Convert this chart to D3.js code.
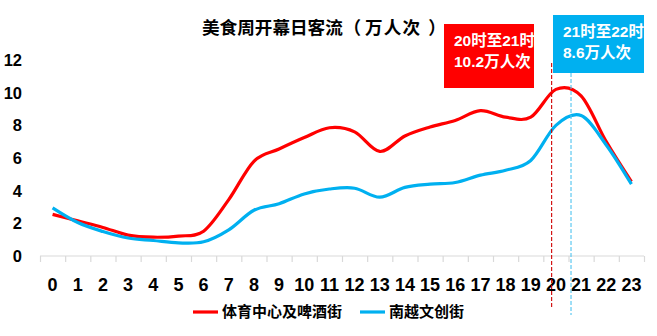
<!DOCTYPE html>
<html>
<head>
<meta charset="utf-8">
<script src="https://cdn.jsdelivr.net/npm/d3@7/dist/d3.min.js"></script>
<style>
  html, body { margin: 0; padding: 0; background: #fff; }
  svg { display: block; }
  text { font-family: "Liberation Sans", "Noto Sans CJK SC", sans-serif; font-weight: bold; }
</style>
</head>
<body>
<svg id="chart" width="657" height="336"></svg>
<script>
// Hourly visitor flow on the food-week opening day (unit: 10k visits)
const hours = d3.range(24).map(String);
const seriesNames = ["体育中心及啤酒街", "南越文创街"];
const seriesColors = ["#FF0000", "#00B0F0"];
const sportsCenter = [2.55, 2.15, 1.75, 1.28, 1.15, 1.22, 1.52, 3.45, 5.8, 6.55, 7.25, 7.85, 7.6, 6.4, 7.35, 7.9, 8.3, 8.9, 8.5, 8.5, 10.2, 9.8, 7.0, 4.55];
const nanyue = [2.95, 2.05, 1.5, 1.1, 0.95, 0.8, 0.87, 1.6, 2.8, 3.2, 3.8, 4.1, 4.15, 3.6, 4.2, 4.4, 4.5, 4.95, 5.25, 5.85, 8.0, 8.6, 6.8, 4.4];
const yTicks = [0, 2, 4, 6, 8, 10, 12];
const titleMain = "美食周开幕日客流";
const titleUnit = "万人次";
// Peak call-outs: marker position (in hours), box lines
const callouts = [
  { hour: 19.83, lines: ["20时至21时", "10.2万人次"], color: "#FF0000", marker: "#D00000" },
  { hour: 20.6, lines: ["21时至22时", "8.6万人次"], color: "#00B0F0", marker: "#4FC3F0" }
];

const svg = d3.select("#chart");

const xBand = d3.scaleBand().domain(hours).range([40, 644]);
const xPos = d3.scaleLinear().domain([-0.5, 23.5]).range([40, 644]);
const y = d3.scaleLinear().domain([0, 12]).range([256, 60]);

// Title: main words, then the unit in spaced full-width brackets
const title = svg.append("text")
  .attr("y", 34)
  .style("font-family", "'Noto Sans CJK SC', sans-serif")
  .style("font-size", "17.6px")
  .attr("fill", "#000");
title.append("tspan").attr("x", 202).text(titleMain);
title.append("tspan").attr("x", 343.5).text("（");
title.append("tspan").attr("x", 365).style("letter-spacing", "1.2px").text(titleUnit);
const close = title.append("tspan").text("）");
const cw = close.node().getComputedTextLength();
close.attr("x", 437 - cw / 2);

// Y labels (no axis line, no grid)
svg.append("g").selectAll("text").data(yTicks).join("text")
  .attr("x", 22).attr("y", d => y(d))
  .attr("dy", "0.36em")
  .attr("text-anchor", "end")
  .style("font-size", "16.5px")
  .text(d => d);

// X axis: line with ticks at category boundaries
const xAxis = d3.axisBottom(xPos)
  .tickValues(d3.range(-0.5, 24, 1))
  .tickSize(6)
  .tickFormat("");
const gx = svg.append("g").attr("transform", `translate(0,${y(0)})`).call(xAxis);
gx.select(".domain").attr("stroke", "#D9D9D9").attr("stroke-width", 1.2).attr("d", `M40,0H644`);
gx.selectAll(".tick line").attr("stroke", "#D9D9D9").attr("stroke-width", 1.2);

svg.append("g").selectAll("text").data(hours).join("text")
  .attr("x", d => xBand(d) + xBand.bandwidth() / 2)
  .attr("y", 291)
  .attr("text-anchor", "middle")
  .style("font-size", "18px")
  .attr("fill", "#000")
  .text(d => d);

// Series lines (smoothed)
const line = d3.line()
  .x((d, i) => xBand(hours[i]) + xBand.bandwidth() / 2)
  .y(d => y(d))
  .curve(d3.curveCardinal.tension(0));

[sportsCenter, nanyue].forEach((vals, k) => {
  svg.append("path")
    .datum(vals)
    .attr("fill", "none")
    .attr("stroke", seriesColors[k])
    .attr("stroke-width", 3.2)
    .attr("stroke-linejoin", "round")
    .attr("d", line);
});

// Call-out boxes and dashed markers
const boxes = [
  { x: 444, y: 24, w: 90, h: 64, lineEnd: 308, lineStart: 63 },
  { x: 553, y: 15, w: 91, h: 58, lineEnd: 315, lineStart: 73 }
];
callouts.forEach((c, k) => {
  const b = boxes[k];
  const mx = xPos(c.hour);
  svg.append("line")
    .attr("x1", mx).attr("x2", mx)
    .attr("y1", b.lineStart).attr("y2", b.lineEnd)
    .attr("stroke", c.marker)
    .attr("stroke-width", 1.1)
    .attr("stroke-dasharray", "4,2");
  svg.append("rect")
    .attr("x", b.x).attr("y", b.y).attr("width", b.w).attr("height", b.h)
    .attr("fill", c.color);
  c.lines.forEach((t, j) => {
    svg.append("text")
      .attr("x", b.x + 10)
      .attr("y", b.y + 21.5 + j * 21.5)
      .style("font-size", "15.5px")
      .attr("fill", "#fff")
      .text(t);
  });
});

// Legend
const legendItems = [
  { x: 193, name: seriesNames[0], color: seriesColors[0] },
  { x: 360, name: seriesNames[1], color: seriesColors[1] }
];
const lg = svg.append("g").selectAll("g").data(legendItems).join("g")
  .attr("transform", d => `translate(${d.x},312)`);
lg.append("line").attr("x1", 0).attr("x2", 25).attr("y1", 0).attr("y2", 0)
  .attr("stroke", d => d.color).attr("stroke-width", 3.2);
lg.append("text").attr("x", 29).attr("dy", "0.36em")
  .style("font-family", "'Noto Sans CJK SC', sans-serif")
  .style("font-size", "15px")
  .attr("fill", "#000")
  .text(d => d.name);
</script>
</body>
</html>
